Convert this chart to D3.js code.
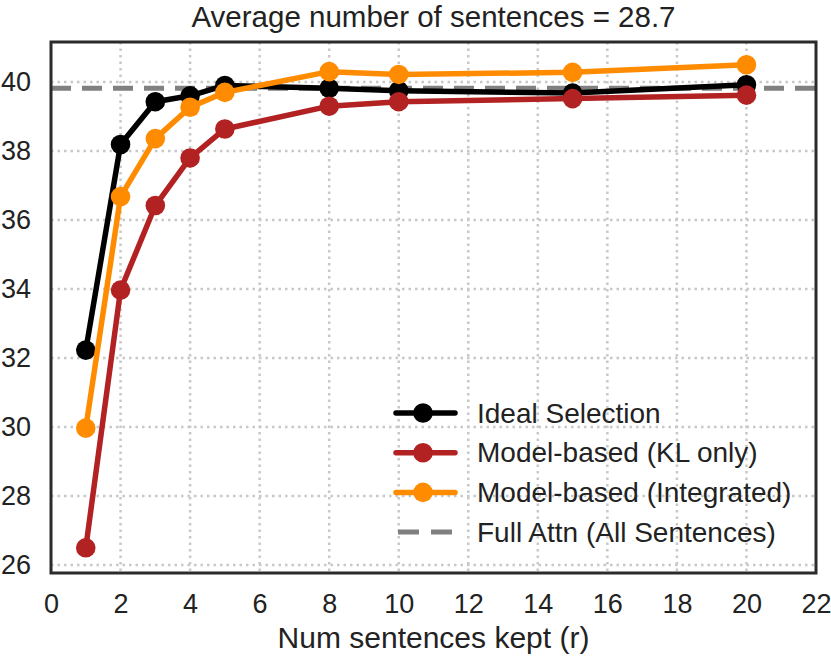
<!DOCTYPE html>
<html>
<head>
<meta charset="utf-8">
<script src="https://cdn.jsdelivr.net/npm/d3@7"></script>
<style>
  body { margin: 0; background: #fff; }
  text { font-family: "Liberation Sans", Arial, sans-serif; fill: #222; }
</style>
</head>
<body>
<script>
// data
var kept = [1, 2, 3, 4, 5, 8, 10, 15, 20];
var ideal = [32.23, 38.19, 39.43, 39.6, 39.9, 39.82, 39.75, 39.68, 39.92];
var klOnly = [26.5, 33.97, 36.42, 37.8, 38.64, 39.3, 39.43, 39.52, 39.62];
var integrated = [29.97, 36.68, 38.36, 39.27, 39.7, 40.3, 40.22, 40.28, 40.5];
var fullAttn = 39.82;
var xTicks = [0, 2, 4, 6, 8, 10, 12, 14, 16, 18, 20, 22];
var yTicks = [26, 28, 30, 32, 34, 36, 38, 40];
var seriesNames = ["Ideal Selection", "Model-based (KL only)", "Model-based (Integrated)", "Full Attn (All Sentences)"];
var seriesColors = ["#000000", "#b22222", "#ff8c00", "#808080"];

var width = 831, height = 658;
var plotLeft = 51, plotRight = 816, plotTop = 42, plotBottom = 573;

var svg = d3.select("body").append("svg")
  .attr("width", width)
  .attr("height", height);

var x = d3.scaleLinear().domain([0, 22]).range([plotLeft, plotRight]);
var y = d3.scaleLinear().domain([25.77, 41.16]).range([plotBottom, plotTop]);

// grid
svg.append("g").selectAll("line").data(xTicks.slice(1, -1)).enter().append("line")
  .attr("x1", function(d) { return x(d); })
  .attr("x2", function(d) { return x(d); })
  .attr("y1", plotTop).attr("y2", plotBottom)
  .attr("stroke", "#c8c8c8").attr("stroke-width", 2.5).attr("stroke-dasharray", "2.5,4");
svg.append("g").selectAll("line").data(yTicks).enter().append("line")
  .attr("y1", function(d) { return y(d); })
  .attr("y2", function(d) { return y(d); })
  .attr("x1", plotLeft).attr("x2", plotRight)
  .attr("stroke", "#c8c8c8").attr("stroke-width", 2.5).attr("stroke-dasharray", "2.5,4");

// axes
var xAxis = svg.append("g")
  .attr("transform", "translate(0," + plotBottom + ")")
  .call(d3.axisBottom(x).tickValues(xTicks).tickSize(0).tickPadding(21));
var yAxis = svg.append("g")
  .attr("transform", "translate(" + plotLeft + ",0)")
  .call(d3.axisLeft(y).tickValues(yTicks).tickSize(0).tickPadding(20));
[xAxis, yAxis].forEach(function(a) {
  a.select(".domain").remove();
  a.selectAll("text").style("font-size", "27px").attr("fill", "#222");
});

// full attention reference
svg.append("line")
  .attr("x1", plotLeft).attr("x2", plotRight)
  .attr("y1", y(fullAttn)).attr("y2", y(fullAttn))
  .attr("stroke", "#808080").attr("stroke-width", 5).attr("stroke-dasharray", "20,11");

var line = d3.line()
  .x(function(d) { return x(d[0]); })
  .y(function(d) { return y(d[1]); });

[ideal, klOnly, integrated].forEach(function(vals, k) {
  var pts = kept.map(function(r, i) { return [r, vals[i]]; });
  svg.append("path").datum(pts)
    .attr("d", line)
    .attr("fill", "none")
    .attr("stroke", seriesColors[k])
    .attr("stroke-width", 5.5)
    .attr("stroke-linejoin", "round");
  svg.append("g").selectAll("circle").data(pts).enter().append("circle")
    .attr("cx", function(d) { return x(d[0]); })
    .attr("cy", function(d) { return y(d[1]); })
    .attr("r", 9.8)
    .attr("fill", seriesColors[k]);
});

// frame
svg.append("rect")
  .attr("x", plotLeft).attr("y", plotTop)
  .attr("width", plotRight - plotLeft).attr("height", plotBottom - plotTop)
  .attr("fill", "none").attr("stroke", "#2b2b2b").attr("stroke-width", 3);

// legend
var leg = svg.append("g");
seriesNames.forEach(function(name, i) {
  var ly = 413 + i * 39.7;
  if (i < 3) {
    leg.append("line").attr("x1", 396).attr("x2", 455).attr("y1", ly).attr("y2", ly)
      .attr("stroke", seriesColors[i]).attr("stroke-width", 5.5).attr("stroke-linecap", "round");
    leg.append("circle").attr("cx", 423).attr("cy", ly).attr("r", 9.8).attr("fill", seriesColors[i]);
  } else {
    leg.append("line").attr("x1", 398).attr("x2", 452).attr("y1", ly).attr("y2", ly)
      .attr("stroke", seriesColors[i]).attr("stroke-width", 5).attr("stroke-dasharray", "21,12");
  }
  leg.append("text").attr("x", 477).attr("y", ly + 9.5)
    .style("font-size", "28px").text(name);
});

// titles
svg.append("text")
  .attr("x", (plotLeft + plotRight) / 2).attr("y", 27)
  .attr("text-anchor", "middle")
  .style("font-size", "29.5px")
  .text("Average number of sentences = 28.7");

svg.append("text")
  .attr("x", (plotLeft + plotRight) / 2).attr("y", 648)
  .attr("text-anchor", "middle")
  .style("font-size", "30px")
  .text("Num sentences kept (r)");
</script>
</body>
</html>
